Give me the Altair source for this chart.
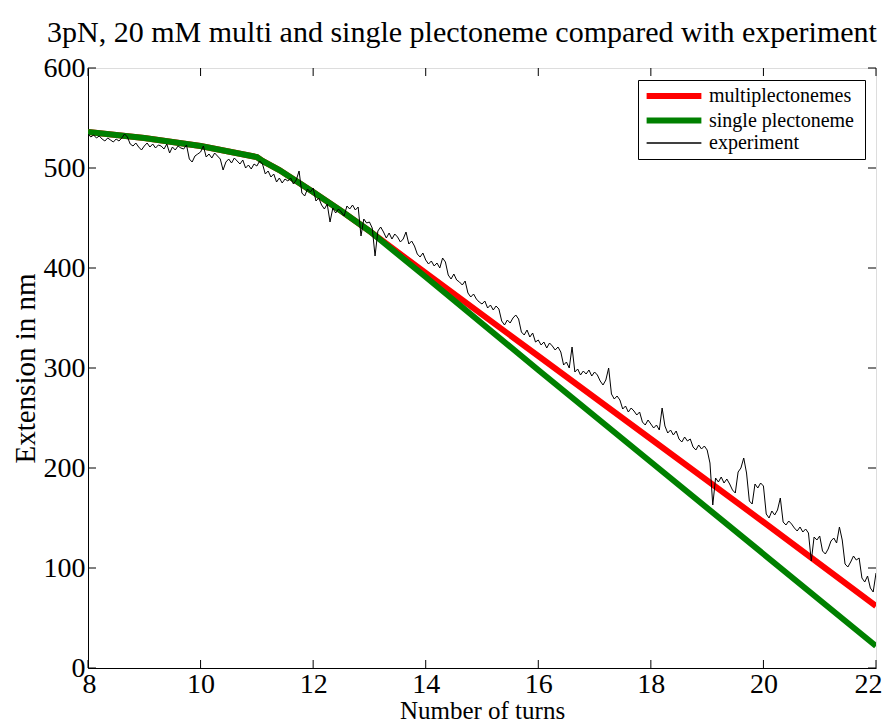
import altair as alt
import pandas as pd

# model curves (turns, extension in nm)
model_turns = [8, 9, 10, 11, 11.1, 11.4, 12, 12.5, 13, 14, 16, 18, 20, 22]
multi_ext = [536, 530, 522, 511, 507, 498, 476, 457, 437, 395, 312, 229, 146, 62]
single_ext = [536, 530, 522, 511, 507, 498, 476, 457, 437, 391, 298, 206, 114, 22]

# experiment trace, sampled every 0.05 turn from 8 to 22
exp_start, exp_step = 8.0, 0.05
exp_ext = [
    534, 531, 533, 530, 532, 529, 527, 530, 528, 526, 529, 527, 530, 534, 531, 524, 522, 525, 521, 518,
    522, 525, 521, 524, 520, 523, 522, 519, 524, 515, 521, 518, 522, 520, 519, 523, 509, 506, 512, 514,
    516, 522, 511, 514, 510, 515, 512, 509, 498, 506, 509, 505, 510, 507, 504, 508, 500, 503, 499, 504,
    502, 507, 504, 494, 497, 491, 494, 486, 490, 485, 489, 487, 490, 484, 488, 497, 475, 472, 479, 476,
    480, 467, 470, 463, 459, 464, 446, 460, 455, 459, 456, 452, 462, 459, 463, 458, 461, 432, 449, 445,
    446, 440, 412, 437, 441, 436, 430, 435, 429, 434, 431, 426, 429, 436, 424, 427, 422, 414, 411, 415,
    408, 404, 407, 402, 405, 400, 410, 406, 393, 389, 394, 388, 386, 383, 387, 375, 371, 374, 369, 366,
    364, 367, 360, 363, 358, 362, 359, 347, 343, 348, 345, 350, 353, 349, 336, 333, 338, 331, 335, 326,
    328, 323, 326, 320, 325, 322, 318, 321, 316, 303, 306, 300, 321, 296, 299, 293, 297, 294, 298, 292,
    296, 293, 287, 283, 288, 300, 274, 269, 272, 268, 259, 262, 256, 260, 257, 253, 256, 246, 243, 248,
    244, 240, 243, 238, 260, 242, 235, 238, 233, 237, 229, 226, 231, 227, 229, 221, 218, 223, 219, 222,
    218, 205, 163, 190, 186, 191, 185, 189, 184, 178, 175, 196, 200, 210, 195, 167, 164, 184, 180, 185,
    182, 154, 150, 157, 153, 158, 170, 146, 143, 147, 144, 140, 137, 141, 136, 139, 135, 107, 131, 128,
    132, 117, 114, 119, 127, 130, 125, 141, 128, 104, 101, 106, 112, 108, 110, 90, 86, 92, 80, 76,
    95,
]

x_ticks = [8, 10, 12, 14, 16, 18, 20, 22]
y_ticks = [0, 100, 200, 300, 400, 500, 600]

series_names = ["multiplectonemes", "single  plectoneme", "experiment"]
series_colors = ["#ff0000", "#008000", "#000000"]
series_widths = [6, 6, 1]

rows = []
for t, v in zip(model_turns, multi_ext):
    rows.append({"turns": t, "ext": v, "series": series_names[0]})
for t, v in zip(model_turns, single_ext):
    rows.append({"turns": t, "ext": v, "series": series_names[1]})
for i, v in enumerate(exp_ext):
    rows.append({"turns": round(exp_start + i * exp_step, 4), "ext": v, "series": series_names[2]})
df = pd.DataFrame(rows)

W, H = 788, 600
FONT = "Liberation Serif"

xscale = alt.Scale(domain=[8, 22], nice=False, zero=False)
yscale = alt.Scale(domain=[0, 600], nice=False)

legend = alt.Legend(
    title=None, orient="none", legendX=550, legendY=12,
    symbolType="stroke", symbolSize=3000,
    symbolStrokeWidth=alt.ExprRef(expr="datum.value == 'experiment' ? 1.3 : 6"),
    labelFont=FONT, labelFontSize=20, labelLimit=400, labelColor="black",
    strokeColor="black", fillColor="white",
    padding=6, rowPadding=0.5, symbolOffset=20, labelOffset=25,
)
color = alt.Color("series:N", scale=alt.Scale(domain=series_names, range=series_colors),
                  sort=series_names, legend=legend)

x_axis = alt.Axis(title="Number of turns", values=x_ticks, format="d", ticks=False, grid=False,
                  labelFont=FONT, labelFontSize=28, labelColor="black",
                  titleFont=FONT, titleFontSize=25, titleFontWeight="normal",
                  titleColor="black", labelPadding=2, titlePadding=0,
                  domainColor="black", labelFlush=True, labelFlushOffset=6)
y_axis = alt.Axis(title="Extension in nm", values=y_ticks, format="d", ticks=False, grid=False,
                  labelFont=FONT, labelFontSize=28, labelColor="black",
                  titleFont=FONT, titleFontSize=29, titleFontWeight="normal",
                  titleColor="black", labelPadding=3, titlePadding=3,
                  domainColor="black", labelFlush=False)


def layer_for(name, sw):
    return alt.Chart(df).transform_filter(alt.datum.series == name).mark_line(
        clip=True, strokeWidth=sw).encode(
        x=alt.X("turns:Q", scale=xscale, axis=x_axis),
        y=alt.Y("ext:Q", scale=yscale, axis=y_axis),
        color=color,
    )


lines = [layer_for(n, w) for n, w in zip(series_names, series_widths)]

xt = pd.DataFrame({"turns": x_ticks})
yt = pd.DataFrame({"ext": y_ticks})
tick_len = 8
bottom_ticks = alt.Chart(xt).mark_rule(color="black", strokeWidth=1).encode(
    x=alt.X("turns:Q", scale=xscale, axis=x_axis), y=alt.value(H), y2=alt.value(H - tick_len))
top_ticks = alt.Chart(xt).mark_rule(color="black", strokeWidth=1).encode(
    x=alt.X("turns:Q", scale=xscale, axis=x_axis), y=alt.value(0), y2=alt.value(tick_len))
left_ticks = alt.Chart(yt).mark_rule(color="black", strokeWidth=1).encode(
    y=alt.Y("ext:Q", scale=yscale, axis=y_axis), x=alt.value(0), x2=alt.value(tick_len))
right_ticks = alt.Chart(yt).mark_rule(color="black", strokeWidth=1).encode(
    y=alt.Y("ext:Q", scale=yscale, axis=y_axis), x=alt.value(W), x2=alt.value(W - tick_len))

chart = alt.layer(*lines, bottom_ticks, top_ticks, left_ticks, right_ticks).properties(
    width=W, height=H,
    title=alt.TitleParams("3pN, 20 mM multi  and single plectoneme compared with experiment",
                          font=FONT, fontSize=30, fontWeight="normal", color="black",
                          anchor="middle", frame="group", offset=6, dx=-20),
    autosize=alt.AutoSizeParams(type="none"),
    padding={"left": 80, "top": 60, "right": 9, "bottom": 56},
).configure_view(stroke="black", strokeWidth=1).configure(background="white")

chart.save("out.html", embed_options={"renderer": "svg", "actions": False})
